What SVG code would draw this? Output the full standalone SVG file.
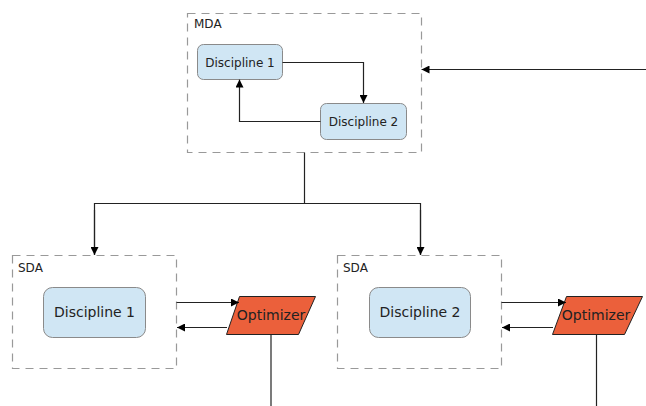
<svg xmlns="http://www.w3.org/2000/svg" width="646" height="406" viewBox="0 0 646 406">
  <style>
    .group { fill: none; stroke: #999; stroke-width: 1.2; stroke-dasharray: 8 6; }
    .disc { fill: #d0e6f4; stroke: #8a8a8a; stroke-width: 1; }
    .opt { fill: #eb603b; stroke: #222; stroke-width: 1; }
    .lbl { font-family: "DejaVu Sans", sans-serif; fill: #222; }
    .edge { fill: none; stroke: #222; stroke-width: 1.2; }
  </style>
  <defs>
    <marker id="ah" viewBox="0 0 10 10" refX="10" refY="5" markerWidth="8" markerHeight="8" markerUnits="userSpaceOnUse" orient="auto">
      <path d="M0,0 L10,5 L0,10 z" fill="#000"/>
    </marker>
  </defs>

  <!-- multidisciplinary analysis -->
  <g id="mda">
    <rect class="group" x="187.5" y="13.5" width="234" height="139"/>
    <text class="lbl" x="194" y="28" font-size="12">MDA</text>
  </g>
  <g id="mda-d1">
    <rect class="disc" x="197.5" y="44.5" width="85" height="35" rx="6"/>
    <text class="lbl" x="240" y="66.5" font-size="12" text-anchor="middle">Discipline 1</text>
  </g>
  <g id="mda-d2">
    <rect class="disc" x="320.5" y="103.5" width="86" height="36" rx="6"/>
    <text class="lbl" x="363.5" y="126" font-size="12" text-anchor="middle">Discipline 2</text>
  </g>

  <!-- single-discipline analyses -->
  <g id="sda1">
    <rect class="group" x="12.5" y="255.5" width="164" height="113"/>
    <text class="lbl" x="18" y="272" font-size="12">SDA</text>
  </g>
  <g id="sda1-d1">
    <rect class="disc" x="43.5" y="287.5" width="102" height="50" rx="9"/>
    <text class="lbl" x="94.5" y="317" font-size="14" text-anchor="middle">Discipline 1</text>
  </g>
  <g id="opt1">
    <polygon class="opt" points="239.5,296.5 315.5,296.5 298.5,334.5 226.5,334.5"/>
    <text class="lbl" x="271" y="320" font-size="14" text-anchor="middle">Optimizer</text>
  </g>

  <g id="sda2">
    <rect class="group" x="337.5" y="255.5" width="164" height="113"/>
    <text class="lbl" x="343" y="272" font-size="12">SDA</text>
  </g>
  <g id="sda2-d2">
    <rect class="disc" x="369.5" y="287.5" width="101" height="50" rx="9"/>
    <text class="lbl" x="420" y="317" font-size="14" text-anchor="middle">Discipline 2</text>
  </g>
  <g id="opt2">
    <polygon class="opt" points="566.5,296.5 642.5,296.5 624.5,334.5 552.5,334.5"/>
    <text class="lbl" x="596" y="320" font-size="14" text-anchor="middle">Optimizer</text>
  </g>

  <!-- connectors -->
  <g id="connectors">
    <polyline class="edge" points="282.5,62.5 363.5,62.5 363.5,103" marker-end="url(#ah)"/>
    <polyline class="edge" points="320.5,121.5 239.5,121.5 239.5,79.5" marker-end="url(#ah)"/>
    <line class="edge" x1="646" y1="69.5" x2="421.5" y2="69.5" marker-end="url(#ah)"/>
    <line class="edge" x1="304.5" y1="152.5" x2="304.5" y2="203.5"/>
    <polyline class="edge" points="94.5,255 94.5,203.5 420.5,203.5 420.5,255"/>
    <line class="edge" x1="94.5" y1="210" x2="94.5" y2="255" marker-end="url(#ah)"/>
    <line class="edge" x1="420.5" y1="210" x2="420.5" y2="255" marker-end="url(#ah)"/>
    <line class="edge" x1="176.5" y1="302.5" x2="239" y2="302.5" marker-end="url(#ah)"/>
    <line class="edge" x1="227" y1="327.5" x2="177" y2="327.5" marker-end="url(#ah)"/>
    <line class="edge" x1="271" y1="334.5" x2="271" y2="406"/>
    <line class="edge" x1="501.5" y1="302.5" x2="566" y2="302.5" marker-end="url(#ah)"/>
    <line class="edge" x1="553" y1="327.5" x2="502" y2="327.5" marker-end="url(#ah)"/>
    <line class="edge" x1="596.5" y1="334.5" x2="596.5" y2="406"/>
  </g>
</svg>
